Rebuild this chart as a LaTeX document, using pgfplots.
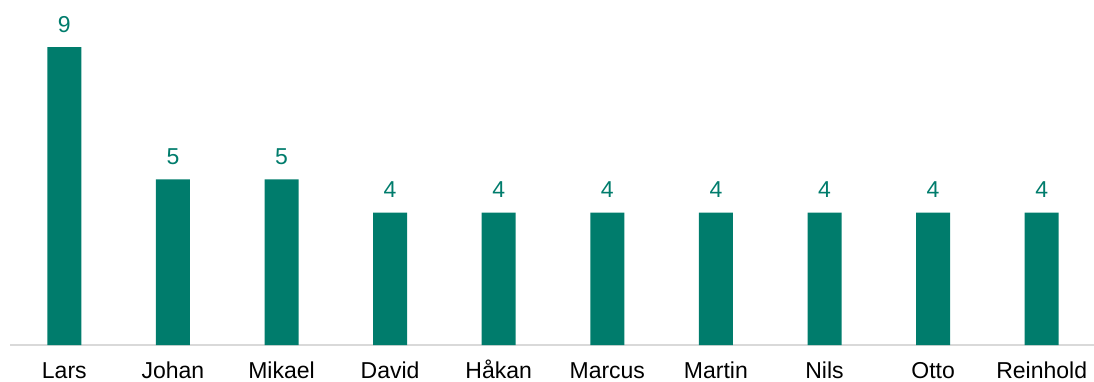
\documentclass[border=0pt]{standalone}
\usepackage{fontspec}
\setmainfont{Liberation Sans}
\usepackage{pgfplots}
\pgfplotsset{compat=1.18}
\definecolor{barteal}{RGB}{0,124,108}
\definecolor{axgray}{RGB}{217,217,217}
\begin{document}
\begin{tikzpicture}
\begin{axis}[
  scale only axis,
  width=814.5bp, height=258.75bp,
  xmin=-0.5, xmax=9.5,
  ymin=0, ymax=10.42,
  ybar, bar width=25.5bp,
  axis x line=bottom, axis y line=none,
  x axis line style={-, draw=axgray, line width=1.2bp},
  xtick={0,...,9},
  xticklabels={Lars,Johan,Mikael,David,Håkan,Marcus,Martin,Nils,Otto,Reinhold},
  xtick style={draw=none},
  xticklabel style={anchor=base, yshift=-23.25bp, font=\fontsize{17.25bp}{20bp}\selectfont, text=black},
  ytick=\empty,
  /pgf/number format/assume math mode=true,
  nodes near coords,
  every node near coord/.append style={anchor=base, yshift=11.25bp, font=\fontsize{17.25bp}{20bp}\selectfont, text=barteal},
  clip=false,
]
\addplot[fill=barteal, draw=none] coordinates {(0,9) (1,5) (2,5) (3,4) (4,4) (5,4) (6,4) (7,4) (8,4) (9,4)};
\coordinate (sw) at (rel axis cs:0,0);
\end{axis}
\pgfresetboundingbox
\path[use as bounding box] ([xshift=-7.5bp, yshift=-27.75bp]sw) rectangle ([xshift=813bp, yshift=258.75bp]sw);
\end{tikzpicture}
\end{document}
